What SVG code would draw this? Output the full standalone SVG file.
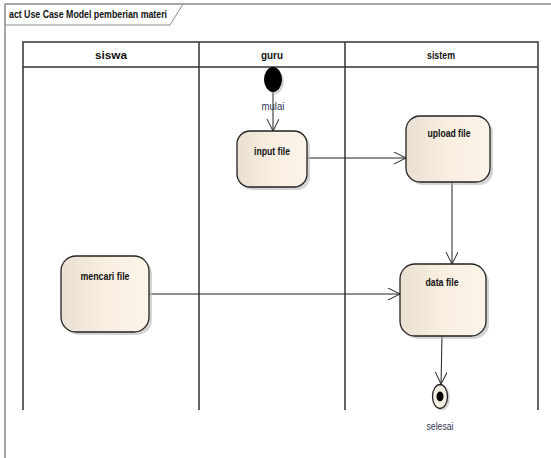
<svg xmlns="http://www.w3.org/2000/svg" width="551" height="458" viewBox="0 0 551 458">
<style>
.frame{fill:none;stroke:#8a8a8a;stroke-width:1.5}
.lane{fill:none;stroke:#333;stroke-width:1.5}
.t{font-family:"Liberation Sans",Arial,sans-serif;font-weight:bold;fill:#111;text-anchor:middle}
.act{fill:url(#g);stroke:#222;stroke-width:1.3}
.sh{fill:#b8b8b8;opacity:0.6}
.conn{fill:none;stroke:#222;stroke-width:1}
.lbl{font-family:"Liberation Sans",Arial,sans-serif;font-size:10px;fill:#333650;text-anchor:middle}
</style>
<defs>
<linearGradient id="g" x1="0" y1="0" x2="1" y2="0">
<stop offset="0" stop-color="#e9e0d1"/>
<stop offset="0.5" stop-color="#f8efe1"/>
<stop offset="1" stop-color="#fcf4e7"/>
</linearGradient>
<marker id="open" markerWidth="14" markerHeight="14" refX="12" refY="6" orient="auto" markerUnits="userSpaceOnUse">
<path d="M0,0 L12,6 L0,12" fill="none" stroke="#222" stroke-width="1"/>
</marker>
</defs>
<rect width="551" height="458" fill="#fff"/>
<g id="frame">
<path class="frame" d="M5,458 V4 H551"/>
<path d="M5,25 H170 L183,4" fill="none" stroke="#8a8a8a" stroke-width="1"/>
<text x="9" y="18" font-family="'Liberation Sans',Arial,sans-serif" font-weight="bold" font-size="10.5" fill="#111" textLength="158" lengthAdjust="spacingAndGlyphs">act Use Case Model pemberian materi</text>
</g>
<g id="lanes">
<path class="lane" d="M23,410 V42 H538 V410 M23,67 H538 M199,42 V410 M345,42 V410"/>
<text class="t" x="111" y="59" font-size="10.5" textLength="32" lengthAdjust="spacingAndGlyphs">siswa</text>
<text class="t" x="272" y="59" font-size="10.5" textLength="22" lengthAdjust="spacingAndGlyphs">guru</text>
<text class="t" x="441" y="59" font-size="10.5" textLength="28" lengthAdjust="spacingAndGlyphs">sistem</text>
</g>
<g id="connectors">
<line class="conn" x1="273" y1="92" x2="273" y2="131" marker-end="url(#open)"/>
<text class="lbl" x="273" y="110" textLength="23" lengthAdjust="spacingAndGlyphs">mulai</text>
<line class="conn" x1="307" y1="158" x2="406" y2="158" marker-end="url(#open)"/>
<line class="conn" x1="452" y1="182" x2="452" y2="264" marker-end="url(#open)"/>
<line class="conn" x1="149" y1="294" x2="400" y2="294" marker-end="url(#open)"/>
<line class="conn" x1="442" y1="336" x2="441" y2="384" marker-end="url(#open)"/>
</g>
<g id="start">
<ellipse cx="275" cy="81.5" rx="9" ry="12.5" fill="#aaa" opacity="0.5"/>
<ellipse cx="273" cy="79.5" rx="9" ry="12.5" fill="#000"/>
</g>
<g id="input-file">
<rect class="sh" x="240" y="134" width="70" height="56" rx="13"/>
<rect class="act" x="237" y="131" width="70" height="56" rx="13"/>
<text class="t" x="272" y="155" font-size="10.5" textLength="36" lengthAdjust="spacingAndGlyphs">input file</text>
</g>
<g id="upload-file">
<rect class="sh" x="409" y="119" width="84" height="66" rx="14"/>
<rect class="act" x="406" y="116" width="84" height="66" rx="14"/>
<text class="t" x="449" y="137" font-size="10.5" textLength="43" lengthAdjust="spacingAndGlyphs">upload file</text>
</g>
<g id="mencari-file">
<rect class="sh" x="64" y="259" width="88" height="76" rx="15"/>
<rect class="act" x="61" y="256" width="88" height="76" rx="15"/>
<text class="t" x="105" y="280" font-size="10.5" textLength="49" lengthAdjust="spacingAndGlyphs">mencari file</text>
</g>
<g id="data-file">
<rect class="sh" x="403" y="267" width="86" height="72" rx="15"/>
<rect class="act" x="400" y="264" width="86" height="72" rx="15"/>
<text class="t" x="442" y="286" font-size="10.5" textLength="33" lengthAdjust="spacingAndGlyphs">data file</text>
</g>
<g id="end">
<ellipse cx="442" cy="398" rx="8" ry="12.5" fill="#aaa" opacity="0.5"/>
<ellipse cx="440" cy="396.5" rx="7.5" ry="12" fill="#f5efe3" stroke="#222" stroke-width="1.3"/>
<ellipse cx="440" cy="396.5" rx="3.5" ry="5" fill="#000"/>
<text class="lbl" x="440" y="430" textLength="27" lengthAdjust="spacingAndGlyphs">selesai</text>
</g>
</svg>
